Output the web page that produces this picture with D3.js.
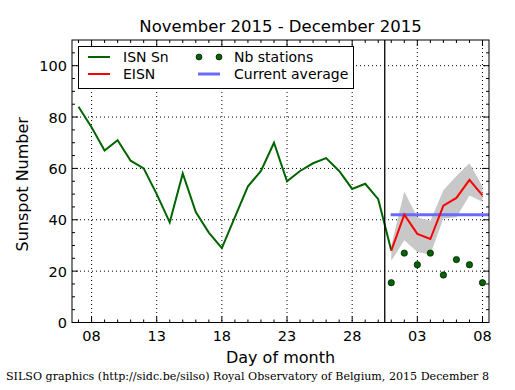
<!DOCTYPE html>
<html>
<head>
<meta charset="utf-8">
<script src="https://cdn.jsdelivr.net/npm/d3@7"></script>
<style>
  body { margin: 0; background: #fff; }
  text { font-family: "DejaVu Sans", sans-serif; }
</style>
</head>
<body>
<div id="chart"></div>
<script>
// day numbers count from Nov 1 = 1, so Dec 1 = 31
const isnDays = d3.range(7, 32);
const isnValues = [84, 76, 67, 71, 63, 60, 50, 39, 58, 43, 35, 29, 41, 53, 59, 70, 55, 59, 62, 64, 59, 52, 54, 48, 28];
const eisnDays = d3.range(31, 39);
const eisnValues = [28, 42, 34.5, 32.5, 45.5, 48.5, 55.5, 49.5];
const bandUpper = [30, 51, 41, 39.5, 51.5, 57, 62, 53];
const bandLower = [24, 32, 27.5, 26.5, 40.5, 41, 49.5, 47];
const stationValues = [15.5, 27, 22.5, 27, 18.5, 24.5, 22.5, 15.5];
const currentAverage = 42;
const xTickDays = [8, 13, 18, 23, 28, 33, 38];
const xTickLabels = ["08", "13", "18", "23", "28", "03", "08"];
const yTicks = [0, 20, 40, 60, 80, 100];

const width = 515, height = 390;
const margin = { top: 40, right: 26, bottom: 67.5, left: 72 };

const svg = d3.select("#chart").append("svg")
    .attr("width", width)
    .attr("height", height);

const x = d3.scaleLinear().domain([6.5, 38.5]).range([margin.left, width - margin.right]);
const y = d3.scaleLinear().domain([0, 110]).range([height - margin.bottom, margin.top]);
const x0 = x.range()[0], x1 = x.range()[1], y0 = y.range()[0], y1 = y.range()[1];

// dotted grid at the major ticks
svg.append("g").selectAll("line.vg")
    .data(xTickDays)
    .join("line")
    .attr("x1", d => x(d)).attr("x2", d => x(d))
    .attr("y1", y1).attr("y2", y0)
    .attr("stroke", "#000").attr("stroke-width", 1).attr("stroke-dasharray", "1,3");
svg.append("g").selectAll("line.hg")
    .data(yTicks.filter(d => d > 0))
    .join("line")
    .attr("x1", x0).attr("x2", x1)
    .attr("y1", d => y(d)).attr("y2", d => y(d))
    .attr("stroke", "#000").attr("stroke-width", 1).attr("stroke-dasharray", "1,3");

// uncertainty band of EISN
const band = eisnDays.map((d, i) => ({ day: d, lo: bandLower[i], hi: bandUpper[i] }));
svg.append("path")
    .datum(band)
    .attr("fill", "#c8c8c8")
    .attr("d", d3.area().x(d => x(d.day)).y0(d => y(d.lo)).y1(d => y(d.hi)));

// current average
svg.append("line")
    .attr("x1", x(30.95)).attr("x2", x1)
    .attr("y1", y(currentAverage)).attr("y2", y(currentAverage))
    .attr("stroke", "#6a6aff").attr("stroke-width", 3);

// ISN line
svg.append("path")
    .datum(isnDays.map((d, i) => [d, isnValues[i]]))
    .attr("fill", "none")
    .attr("stroke", "#006400")
    .attr("stroke-width", 2)
    .attr("d", d3.line().x(d => x(d[0])).y(d => y(d[1])));

// EISN line
svg.append("path")
    .datum(eisnDays.map((d, i) => [d, eisnValues[i]]))
    .attr("fill", "none")
    .attr("stroke", "#ff0000")
    .attr("stroke-width", 2)
    .attr("d", d3.line().x(d => x(d[0])).y(d => y(d[1])));

// number of stations
svg.append("g").selectAll("circle")
    .data(eisnDays.map((d, i) => [d, stationValues[i]]))
    .join("circle")
    .attr("cx", d => x(d[0])).attr("cy", d => y(d[1]))
    .attr("r", 3.2)
    .attr("fill", "#006400")
    .attr("stroke", "#000").attr("stroke-width", 0.6);

// separator between months
svg.append("line")
    .attr("x1", x(30.5)).attr("x2", x(30.5))
    .attr("y1", y1).attr("y2", y0)
    .attr("stroke", "#000").attr("stroke-width", 1.3);

// ticks, pointing inward on all four sides
const minorX = d3.range(7, 39).filter(d => !xTickDays.includes(d));
const minorY = d3.range(5, 110, 5).filter(d => d % 20 !== 0);
const tk = svg.append("g").attr("stroke", "#000").attr("stroke-width", 1);
const addX = (days, len) => {
    days.forEach(d => {
        tk.append("line").attr("x1", x(d)).attr("x2", x(d)).attr("y1", y0).attr("y2", y0 - len);
        tk.append("line").attr("x1", x(d)).attr("x2", x(d)).attr("y1", y1).attr("y2", y1 + len);
    });
};
const addY = (vals, len) => {
    vals.forEach(v => {
        tk.append("line").attr("x1", x0).attr("x2", x0 + len).attr("y1", y(v)).attr("y2", y(v));
        tk.append("line").attr("x1", x1).attr("x2", x1 - len).attr("y1", y(v)).attr("y2", y(v));
    });
};
addX(xTickDays, 6); addX(minorX, 3);
addY(yTicks, 6); addY(minorY, 3);

// frame
svg.append("rect")
    .attr("x", x0).attr("y", y1)
    .attr("width", x1 - x0).attr("height", y0 - y1)
    .attr("fill", "none").attr("stroke", "#000").attr("stroke-width", 1);

// tick labels
svg.append("g").selectAll("text")
    .data(xTickDays)
    .join("text")
    .attr("x", d => x(d)).attr("y", y0 + 18)
    .attr("text-anchor", "middle")
    .attr("font-size", "14.5px")
    .text((d, i) => xTickLabels[i]);
svg.append("g").selectAll("text")
    .data(yTicks)
    .join("text")
    .attr("x", x0 - 5).attr("y", d => y(d) + 5.5)
    .attr("text-anchor", "end")
    .attr("font-size", "14.5px")
    .text(d => d);

// titles
svg.append("text")
    .attr("x", (x0 + x1) / 2).attr("y", 32)
    .attr("text-anchor", "middle").attr("font-size", "16.5px")
    .text("November 2015 - December 2015");
svg.append("text")
    .attr("x", (x0 + x1) / 2).attr("y", 363)
    .attr("text-anchor", "middle").attr("font-size", "16px")
    .text("Day of month");
svg.append("text")
    .attr("transform", `translate(28, ${(y0 + y1) / 2 + 3}) rotate(-90)`)
    .attr("text-anchor", "middle").attr("font-size", "16px")
    .text("Sunspot Number");
svg.append("text")
    .attr("x", 6).attr("y", 380)
    .style("font-family", "'DejaVu Serif', serif")
    .attr("font-size", "11px")
    .attr("textLength", 483)
    .attr("lengthAdjust", "spacingAndGlyphs")
    .text("SILSO graphics (http://sidc.be/silso) Royal Observatory of Belgium, 2015 December 8");

// legend
const lg = svg.append("g");
lg.append("rect")
    .attr("x", 78.5).attr("y", 46.5).attr("width", 275).attr("height", 42)
    .attr("fill", "#fff").attr("stroke", "#000").attr("stroke-width", 1);
const legendItems = [
    { label: "ISN Sn", color: "#006400", kind: "line", lx: 88, ly: 57 },
    { label: "EISN", color: "#ff0000", kind: "line", lx: 88, ly: 74 },
    { label: "Nb stations", color: "#006400", kind: "dots", lx: 198, ly: 57 },
    { label: "Current average", color: "#6a6aff", kind: "wide", lx: 198, ly: 74 }
];
legendItems.forEach(it => {
    if (it.kind === "dots") {
        [it.lx + 1, it.lx + 21].forEach(cx => {
            lg.append("circle").attr("cx", cx).attr("cy", it.ly).attr("r", 3)
                .attr("fill", it.color).attr("stroke", "#000").attr("stroke-width", 0.6);
        });
    } else {
        lg.append("line")
            .attr("x1", it.lx).attr("x2", it.lx + 22)
            .attr("y1", it.ly).attr("y2", it.ly)
            .attr("stroke", it.color).attr("stroke-width", it.kind === "wide" ? 3 : 2);
    }
    lg.append("text")
        .attr("x", it.lx + (it.kind === "line" ? 35 : 36)).attr("y", it.ly + 5)
        .attr("font-size", "14px")
        .text(it.label);
});
</script>
</body>
</html>
